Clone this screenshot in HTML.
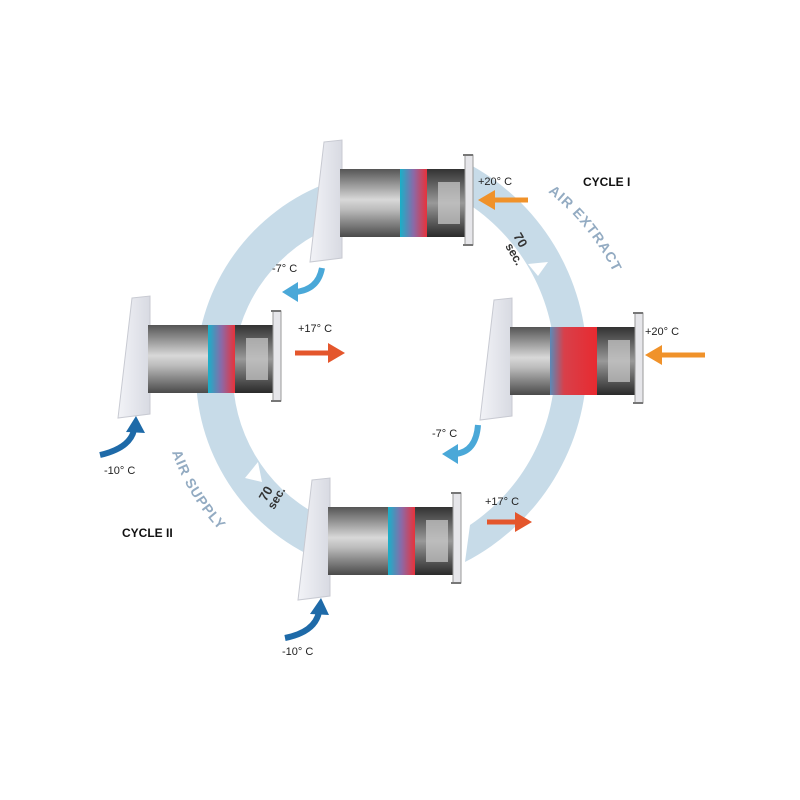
<!DOCTYPE html>
<html><head><meta charset="utf-8"><style>html,body{margin:0;padding:0;background:#fff}svg{display:block}</style></head>
<body>
<svg width="800" height="800" viewBox="0 0 800 800" xmlns="http://www.w3.org/2000/svg" font-family="Liberation Sans, sans-serif">
<defs>
<linearGradient id="cyl" x1="0" y1="0" x2="0" y2="1">
<stop offset="0" stop-color="#555"/><stop offset="0.45" stop-color="#d8d8d8"/><stop offset="0.6" stop-color="#bbb"/><stop offset="1" stop-color="#4a4a4a"/></linearGradient>
<linearGradient id="hx" x1="0" y1="0" x2="1" y2="0">
<stop offset="0" stop-color="#1ab0c8"/><stop offset="0.5" stop-color="#8a6aa8"/><stop offset="1" stop-color="#e8323a"/></linearGradient>
<linearGradient id="hxr" x1="0" y1="0" x2="1" y2="0">
<stop offset="0" stop-color="#5a8ab8"/><stop offset="0.3" stop-color="#d8404a"/><stop offset="1" stop-color="#e82a30"/></linearGradient>
<linearGradient id="fan" x1="0" y1="0" x2="0" y2="1">
<stop offset="0" stop-color="#333"/><stop offset="0.5" stop-color="#999"/><stop offset="1" stop-color="#2a2a2a"/></linearGradient>
<linearGradient id="plate" x1="0" y1="0" x2="1" y2="0">
<stop offset="0" stop-color="#f2f3f7"/><stop offset="1" stop-color="#d8dae2"/></linearGradient>
<g id="unitBase">
<polygon points="14,0 32,-2 32,116 0,120" fill="url(#plate)" stroke="#c8cad2" stroke-width="1"/>
<rect x="30" y="27" width="60" height="68" fill="url(#cyl)"/>
<rect x="117" y="27" width="38" height="68" fill="url(#fan)"/>
<rect x="128" y="40" width="22" height="42" fill="#ccc" opacity="0.7"/>
<rect x="155" y="13" width="8" height="90" fill="#e6e6ea" stroke="#999" stroke-width="1"/>
<path d="M153,13 h10 M153,103 h10" stroke="#777" stroke-width="2"/>
</g>
<path id="tpE" d="M 548 192 A 230 230 0 0 1 628 310" fill="none"/>
<path id="tpS" d="M 172 452 A 215 215 0 0 0 262 565" fill="none"/>
</defs>

<path d="M465,162 A225 225 0 0 1 465,562 L470,525 A193 193 0 0 0 470,205 Z" fill="#c7dbe8"/>
<path d="M330,182 A203 203 0 0 0 320,560 L318,515 A159 159 0 0 1 325,230 Z" fill="#c7dbe8"/>

<text font-size="14" font-weight="bold" fill="#93abc2" letter-spacing="1"><textPath href="#tpE">AIR EXTRACT</textPath></text>
<text font-size="14" font-weight="bold" fill="#93abc2" letter-spacing="1"><textPath href="#tpS">AIR SUPPLY</textPath></text>

<polygon points="528,264 548,262 538,276" fill="#fff"/>
<text x="0" y="0" font-size="13" font-weight="bold" fill="#333" transform="translate(513,236) rotate(60)">70</text>
<text x="0" y="0" font-size="12" font-weight="bold" fill="#333" transform="translate(505,246) rotate(60)">sec.</text>
<polygon points="245,478 258,462 262,482" fill="#fff"/>
<g transform="translate(266,502) rotate(-60)" font-weight="bold" fill="#333">
<text x="0" y="0" font-size="13">70</text>
<text x="-3" y="11" font-size="12">sec.</text>
</g>

<g transform="translate(310,142)"><use href="#unitBase"/><rect x="90" y="27" width="27" height="68" fill="url(#hx)"/></g>
<g transform="translate(118,298)"><use href="#unitBase"/><rect x="90" y="27" width="27" height="68" fill="url(#hx)"/></g>
<g transform="translate(480,300)"><use href="#unitBase"/><rect x="70" y="27" width="47" height="68" fill="url(#hxr)"/></g>
<g transform="translate(298,480)"><use href="#unitBase"/><rect x="90" y="27" width="27" height="68" fill="url(#hx)"/></g>

<path d="M528,200 H492" stroke="#f0922a" stroke-width="5"/><polygon points="478,200 495,190 495,210" fill="#f0922a"/>
<path d="M705,355 H660" stroke="#f0922a" stroke-width="5"/><polygon points="645,355 662,345 662,365" fill="#f0922a"/>
<path d="M295,353 H330" stroke="#e4562c" stroke-width="5"/><polygon points="345,353 328,343 328,363" fill="#e4562c"/>
<path d="M487,522 H517" stroke="#e4562c" stroke-width="5"/><polygon points="532,522 515,512 515,532" fill="#e4562c"/>
<path d="M322,268 Q318,290 295,292" stroke="#4aa8d8" stroke-width="6" fill="none"/><polygon points="282,292 298,282 298,302" fill="#4aa8d8"/>
<path d="M478,425 Q476,452 455,454" stroke="#4aa8d8" stroke-width="6" fill="none"/><polygon points="442,454 458,444 458,464" fill="#4aa8d8"/>
<path d="M100,455 Q130,448 134,430" stroke="#1e6aa8" stroke-width="6" fill="none"/><polygon points="136,416 126,432 145,433" fill="#1e6aa8"/>
<path d="M285,638 Q315,632 319,612" stroke="#1e6aa8" stroke-width="6" fill="none"/><polygon points="321,598 310,614 329,615" fill="#1e6aa8"/>

<g font-size="11" fill="#222">
<text x="478" y="185">+20° C</text>
<text x="645" y="335">+20° C</text>
<text x="298" y="332">+17° C</text>
<text x="485" y="505">+17° C</text>
<text x="272" y="272">-7° C</text>
<text x="432" y="437">-7° C</text>
<text x="104" y="474">-10° C</text>
<text x="282" y="655">-10° C</text>
</g>
<text x="583" y="186" font-size="12" font-weight="bold" fill="#111">CYCLE I</text>
<text x="122" y="537" font-size="12" font-weight="bold" fill="#111">CYCLE II</text>
</svg>
</body></html>
